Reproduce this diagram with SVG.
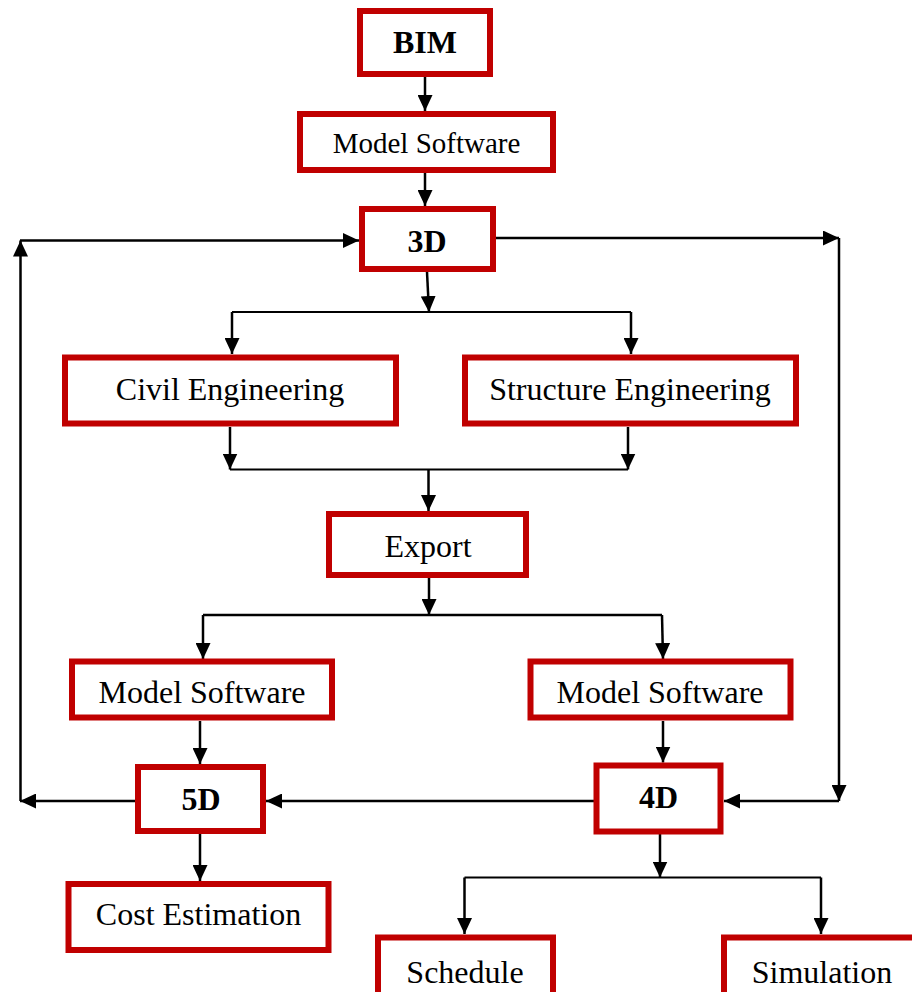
<svg xmlns="http://www.w3.org/2000/svg" width="912" height="992" viewBox="0 0 912 992">
  <style>
    .box { fill: #ffffff; stroke: #c00000; stroke-width: 6; }
    .lbl { font-family: "Liberation Serif", "Times New Roman", serif; font-size: 32px; fill: #000000; text-anchor: middle; }
    .bold { font-weight: bold; }
    .wire { fill: none; stroke: #000000; stroke-width: 2.5; }
    .thin { fill: none; stroke: #000000; stroke-width: 2; }
  </style>
  <defs>
    <marker id="arrow" viewBox="0 0 16 16" refX="16" refY="8" markerWidth="16" markerHeight="15" markerUnits="userSpaceOnUse" orient="auto" preserveAspectRatio="none">
      <path d="M0,0 L16,8 L0,16 Z" fill="#000000"/>
    </marker>
  </defs>

  <rect width="912" height="992" fill="#ffffff"/>

  <!-- connectors -->
  <g id="connectors">
    <path class="wire" d="M425,77 V111" marker-end="url(#arrow)"/>
    <path class="wire" d="M425,173 V206" marker-end="url(#arrow)"/>

    <!-- 3D split to engineering branches -->
    <path class="wire" d="M427,272 L429,312" marker-end="url(#arrow)"/>
    <path class="thin" d="M232,312 H631"/>
    <path class="wire" d="M232,312 V354" marker-end="url(#arrow)"/>
    <path class="wire" d="M631,312 V354" marker-end="url(#arrow)"/>

    <!-- engineering branches merge into export -->
    <path class="wire" d="M230,427 V469.5" marker-end="url(#arrow)"/>
    <path class="wire" d="M628,427 V469.5" marker-end="url(#arrow)"/>
    <path class="thin" d="M230,469.5 H628"/>
    <path class="wire" d="M428.5,469.5 V511" marker-end="url(#arrow)"/>

    <!-- export split -->
    <path class="wire" d="M429,578 V615" marker-end="url(#arrow)"/>
    <path class="wire" d="M203,615 H662"/>
    <path class="wire" d="M203,615 V659" marker-end="url(#arrow)"/>
    <path class="wire" d="M662,615 L663,659" marker-end="url(#arrow)"/>

    <path class="wire" d="M200,721 V764" marker-end="url(#arrow)"/>
    <path class="wire" d="M663,721 V762.5" marker-end="url(#arrow)"/>

    <!-- 4D to 5D -->
    <path class="wire" d="M597,801 H266" marker-end="url(#arrow)"/>

    <!-- 5D feedback loop to 3D -->
    <path class="wire" d="M135,801 H20" marker-end="url(#arrow)"/>
    <path class="wire" d="M20.5,801 V240.5" marker-end="url(#arrow)"/>
    <path class="wire" d="M20,240.5 H359" marker-end="url(#arrow)"/>

    <!-- 3D direct path to 4D -->
    <path class="wire" d="M496,238 H839" marker-end="url(#arrow)"/>
    <path class="wire" d="M839,238 V801" marker-end="url(#arrow)"/>
    <path class="wire" d="M839,801 H724" marker-end="url(#arrow)"/>

    <!-- 4D outputs -->
    <path class="wire" d="M660,834 V877.5" marker-end="url(#arrow)"/>
    <path class="thin" d="M464.5,877.5 H821"/>
    <path class="wire" d="M464.5,877.5 V934" marker-end="url(#arrow)"/>
    <path class="wire" d="M821,877.5 V934" marker-end="url(#arrow)"/>

    <path class="wire" d="M200,834 V881" marker-end="url(#arrow)"/>
  </g>

  <!-- nodes -->
  <g id="bim">
    <rect class="box" x="360" y="11" width="130" height="63"/>
    <text class="lbl bold" x="425" y="53">BIM</text>
  </g>
  <g id="model-software-top">
    <rect class="box" x="300" y="114" width="253" height="56"/>
    <text class="lbl" x="426.5" y="153" style="font-size:29px">Model Software</text>
  </g>
  <g id="node-3d">
    <rect class="box" x="362" y="209" width="131" height="60"/>
    <text class="lbl bold" x="427" y="252">3D</text>
  </g>
  <g id="civil-engineering">
    <rect class="box" x="65" y="357.5" width="331" height="66"/>
    <text class="lbl" x="230" y="400">Civil Engineering</text>
  </g>
  <g id="structure-engineering">
    <rect class="box" x="465" y="357.5" width="331" height="66"/>
    <text class="lbl" x="630" y="400">Structure Engineering</text>
  </g>
  <g id="export">
    <rect class="box" x="329" y="514" width="197" height="61"/>
    <text class="lbl" x="428" y="557">Export</text>
  </g>
  <g id="model-software-left">
    <rect class="box" x="72" y="661.5" width="260" height="56"/>
    <text class="lbl" x="202" y="703">Model Software</text>
  </g>
  <g id="model-software-right">
    <rect class="box" x="530.5" y="661.5" width="260" height="56"/>
    <text class="lbl" x="660" y="703">Model Software</text>
  </g>
  <g id="node-5d">
    <rect class="box" x="138" y="767" width="125" height="64"/>
    <text class="lbl bold" x="201" y="810">5D</text>
  </g>
  <g id="node-4d">
    <rect class="box" x="596.5" y="765.5" width="124" height="66"/>
    <text class="lbl bold" x="658.5" y="808">4D</text>
  </g>
  <g id="cost-estimation">
    <rect class="box" x="68.5" y="884" width="260" height="66"/>
    <text class="lbl" x="198.5" y="925">Cost Estimation</text>
  </g>
  <g id="schedule">
    <rect class="box" x="378" y="937.5" width="175" height="70"/>
    <text class="lbl" x="465" y="983">Schedule</text>
  </g>
  <g id="simulation">
    <rect class="box" x="724" y="937.5" width="210" height="70"/>
    <text class="lbl" x="822" y="983">Simulation</text>
  </g>
</svg>
